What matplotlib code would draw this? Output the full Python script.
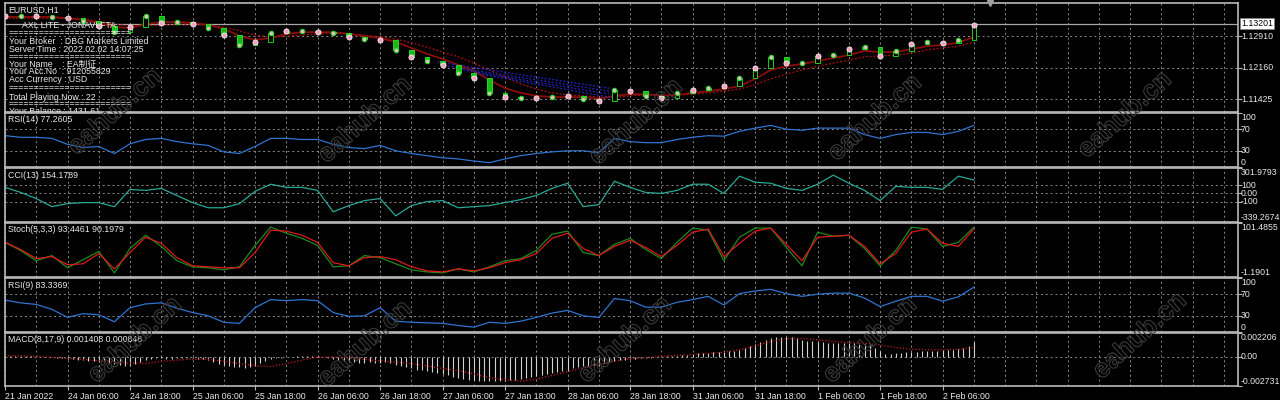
import numpy as np
import matplotlib.pyplot as plt
import matplotlib.patheffects as pe
from matplotlib.patches import Rectangle
from matplotlib.transforms import blended_transform_factory

plt.rcParams['font.family'] = ['Liberation Sans', 'Noto Sans CJK SC', 'DejaVu Sans']

W, H = 1280, 400

# readings taken every 3 H1 bars, bar 0 = 21 Jan 18:00
step = 3
close = [1.1338, 1.1338, 1.1338, 1.1336, 1.1333, 1.1326, 1.1315, 1.1300, 1.1312, 1.1338,
         1.1322, 1.1324, 1.1319, 1.1310, 1.1293, 1.1270, 1.1277, 1.1298, 1.1303, 1.1303,
         1.1300, 1.1298, 1.1289, 1.1284, 1.1282, 1.1258, 1.1242, 1.1232, 1.1223, 1.1204,
         1.1192, 1.1157, 1.1147, 1.1145, 1.1145, 1.1147, 1.1150, 1.1143, 1.1138, 1.1164,
         1.1161, 1.1150, 1.1145, 1.1157, 1.1164, 1.1168, 1.1173, 1.1192, 1.1216, 1.1242,
         1.1227, 1.1227, 1.1244, 1.1246, 1.1260, 1.1265, 1.1244, 1.1256, 1.1272, 1.1277,
         1.1275, 1.1282, 1.1318]
ma_fast = [1.1336, 1.1336, 1.1336, 1.1336, 1.1333, 1.1329, 1.1322, 1.1312, 1.1310, 1.1319,
           1.1324, 1.1324, 1.1322, 1.1317, 1.1308, 1.1291, 1.1282, 1.1286, 1.1296, 1.1300,
           1.1300, 1.1300, 1.1296, 1.1291, 1.1286, 1.1277, 1.1263, 1.1249, 1.1237, 1.1223,
           1.1209, 1.1187, 1.1168, 1.1157, 1.1150, 1.1147, 1.1147, 1.1147, 1.1143, 1.1150,
           1.1154, 1.1154, 1.1150, 1.1152, 1.1157, 1.1161, 1.1166, 1.1173, 1.1190, 1.1211,
           1.1220, 1.1225, 1.1232, 1.1239, 1.1246, 1.1256, 1.1253, 1.1253, 1.1260, 1.1267,
           1.1270, 1.1275, 1.1289]
ma_slow = [1.1333, 1.1333, 1.1333, 1.1333, 1.1333, 1.1331, 1.1326, 1.1319, 1.1315, 1.1315,
           1.1317, 1.1319, 1.1319, 1.1317, 1.1312, 1.1303, 1.1293, 1.1289, 1.1291, 1.1293,
           1.1296, 1.1298, 1.1296, 1.1293, 1.1289, 1.1284, 1.1275, 1.1265, 1.1253, 1.1242,
           1.1227, 1.1211, 1.1194, 1.1178, 1.1166, 1.1157, 1.1152, 1.1150, 1.1147, 1.1147,
           1.1150, 1.1152, 1.1152, 1.1152, 1.1154, 1.1157, 1.1161, 1.1166, 1.1176, 1.1190,
           1.1201, 1.1211, 1.1220, 1.1227, 1.1234, 1.1242, 1.1244, 1.1246, 1.1251, 1.1258,
           1.1263, 1.1267, 1.1277]
rsi14 = [58, 55, 55, 53, 42, 36, 38, 25, 43, 51,
         53, 47, 43, 40, 28, 25, 38, 53, 53, 51,
         51, 42, 36, 34, 40, 30, 25, 21, 17, 15,
         11, 8, 15, 21, 25, 28, 30, 30, 26, 53,
         47, 45, 45, 51, 55, 58, 57, 66, 72, 77,
         70, 68, 72, 72, 72, 60, 53, 60, 64, 64,
         60, 66, 77]
cci13 = [72, 12, -61, -157, -121, -109, -109, -157, 48, 36,
         60, -25, -109, -170, -170, -121, 24, 109, 72, 72,
         36, -218, -145, -85, -61, -266, -145, -97, -85, -170,
         -157, -145, -109, -73, -25, 60, 121, -157, -133, 145,
         72, 12, 0, 36, 109, 109, 0, 205, 133, 121,
         60, 36, 109, 217, 121, 36, -85, 84, 72, 72,
         48, 205, 160]
stoch_main = [64.7, 49.2, 29.8, 39.5, 16.3, 31.8, 47.3, 6.6, 53.1, 78.2,
              57.0, 29.8, 18.2, 16.3, 12.4, 18.2, 58.9, 93.7, 82.1, 72.4,
              58.9, 18.2, 20.1, 39.5, 35.6, 24.0, 12.4, 8.5, 6.6, 14.3,
              8.5, 18.2, 29.8, 33.7, 49.2, 80.2, 86.0, 45.3, 39.5, 60.8,
              72.4, 51.1, 33.7, 64.7, 91.8, 87.9, 29.8, 74.4, 91.8, 91.8,
              55.0, 20.1, 84.1, 76.3, 78.2, 53.1, 20.1, 49.2, 93.7, 89.9,
              57.0, 64.7, 93.4]
stoch_signal = [64.7, 51.1, 33.7, 37.6, 22.1, 24.0, 43.4, 14.3, 45.3, 74.4,
                62.8, 35.6, 20.1, 18.2, 16.3, 16.3, 45.3, 87.9, 86.0, 78.2,
                64.7, 26.0, 20.1, 35.6, 37.6, 31.8, 18.2, 10.5, 8.5, 14.3,
                10.5, 16.3, 26.0, 31.8, 43.4, 72.4, 82.1, 53.1, 39.5, 57.0,
                68.6, 55.0, 37.6, 58.9, 84.1, 89.9, 37.6, 62.8, 86.0, 91.8,
                60.8, 29.8, 74.4, 76.3, 78.2, 57.0, 24.0, 43.4, 84.1, 89.9,
                62.8, 57.0, 90.2]
rsi9 = [59, 54, 51, 42, 27, 34, 32, 19, 45, 52,
        54, 44, 36, 30, 18, 16, 45, 60, 58, 60,
        58, 36, 29, 30, 45, 20, 18, 17, 16, 12,
        9, 18, 16, 20, 27, 35, 40, 30, 27, 62,
        58, 46, 46, 55, 60, 66, 50, 71, 76, 79,
        71, 66, 70, 72, 72, 63, 47, 57, 66, 66,
        57, 65, 83]
macd_signal = [0.9, 0.7, 0.3, -0.5, -1.6, -2.6, -3.8, -5.0, -5.9, -6.2,
               -4.5, -3.2, -2.3, -2.6, -4.2, -6.5, -8.5, -9.2, -6.5, -3.2,
               -0.5, -0.3, -1.0, -2.5, -4.0, -5.0, -6.5, -8.5, -11.0, -13.0,
               -16.0, -19.6, -21.5, -22.8, -21.0, -17.5, -14.0, -10.5, -7.5, -4.0,
               -2.0, -0.8, 0.2, 1.2, 2.0, 3.0, 4.1, 6.5, 10.0, 14.0,
               16.8, 17.0, 15.8, 14.2, 13.2, 12.5, 11.0, 8.5, 7.0, 6.5,
               6.3, 6.8, 8.5]   # x 1e-4

# MACD main line, one value per bar (x 1e-4)
macd_main = [0.5, 0.6, 0.5, 0.3, 0.4, 0.2, 0.1, -0.2, -0.3, -0.5,
             -1.0, -1.5, -2.0, -2.5, -3.0, -3.5, -4.0, -4.2, -4.5, -5.0,
             -6.0, -7.0, -8.0, -8.5, -8.0, -7.0, -5.0, -3.0, -2.0, -1.5,
             -1.5, -1.8, -2.0, -1.5, -1.0, -1.2, -1.5, -2.0, -2.5, -3.5,
             -5.0, -6.5, -7.5, -8.5, -9.5, -10.0, -10.4, -9.5, -8.0, -6.0,
             -4.0, -2.5, -1.5, -0.8, -0.3, 0.0, 0.3, 0.5, 0.6, 0.5,
             0.3, -0.5, -1.5, -2.5, -3.5, -4.2, -4.8, -5.2, -5.5, -5.5,
             -5.0, -5.5, -5.5, -5.0, -6.0, -7.5, -9.0, -10.0, -11.0, -12.0,
             -12.5, -13.5, -14.5, -15.5, -16.5, -17.5, -18.5, -19.5, -20.5, -21.5,
             -22.0, -22.5, -23.0, -23.0, -23.0, -22.8, -22.5, -22.0, -21.5, -21.0,
             -20.0, -19.0, -18.0, -17.0, -16.0, -15.0, -14.0, -13.0, -12.0, -11.0,
             -10.0, -9.0, -8.5, -8.0, -7.5, -6.0, -5.0, -4.0, -3.5, -3.0,
             -2.5, -2.0, -1.5, -1.0, -0.8, -0.5, 0.0, 0.3, 0.6, 1.0,
             1.5, 2.0, 2.5, 3.0, 3.0, 3.5, 4.0, 4.5, 5.0, 5.0,
             5.5, 6.5, 8.0, 10.0, 12.0, 14.0, 16.0, 17.0, 18.0, 18.5,
             18.5, 18.0, 17.0, 16.0, 15.0, 14.5, 14.0, 13.5, 13.0, 13.0,
             13.0, 13.0, 12.5, 12.5, 12.0, 12.0, 11.0, 8.0, 5.0, 2.5,
             2.5, 3.0, 3.5, 4.0, 4.5, 4.5, 5.0, 5.0, 5.5, 5.5,
             6.0, 6.0, 6.5, 7.0, 8.0, 10.0, 14.1]

# blue trend fan in the price window
fan_start_bar = [83, 85, 88, 91]
fan_start_price = [1.1230, 1.1220, 1.1211, 1.1202]
fan_end_bar = 116
fan_end_price = [1.1168, 1.1161, 1.1154, 1.1147]

time_labels = ['21 Jan 2022', '24 Jan 06:00', '24 Jan 18:00', '25 Jan 06:00', '25 Jan 18:00',
               '26 Jan 06:00', '26 Jan 18:00', '27 Jan 06:00', '27 Jan 18:00', '28 Jan 06:00',
               '28 Jan 18:00', '31 Jan 06:00', '31 Jan 18:00', '1 Feb 06:00', '1 Feb 18:00',
               '2 Feb 06:00']

price_levels = [1.12910, 1.12160, 1.11425]
price_texts = ['1.12910', '1.12160', '1.11425']
bid = 1.13201
price_range = (1.11119, 1.13688)
cci_range = (-339.2674, 301.9793)
stoch_range = (-1.1901, 101.4855)
macd_range = (-0.002731, 0.002206)

headers = ['EURUSD,H1', 'RSI(14) 77.2605', 'CCI(13) 154.1789', 'Stoch(5,3,3) 93.4461 90.1979',
           'RSI(9) 83.3369', 'MACD(8,17,9) 0.001408 0.000848']
info_lines = ['AXL LITE - JONAVI FTA', '=' * 24,
              'Your Broker  : DBG Markets Limited', 'Server Time : 2022.02.02 14:07:25', '=' * 24,
              'Your Name    : EA制征', 'Your Acc.No  : 912055829', 'Acc Currency : USD', '=' * 24,
              'Total Playing Now : 22', '=' * 24, 'Your Balance : 1431.61']

grid_c = '#8a8a8a'
frame_c = '#b9b9b9'
txt_c = '#e8e8e8'
fs = 6.3

fig = plt.figure(figsize=(W / 100, H / 100), dpi=100, facecolor='black')


def px(x, y):
    return x / W, 1 - y / H


left, right = 5, 1238
rows = [(3, 112), (113, 167), (168, 222), (223, 277), (278, 332), (333, 386)]
n_slots = 236.7
major = np.arange(0, 181, 12)
minor = [b for b in range(6, 237, 6) if b not in major]

axes = []
for top, bottom in rows:
    ax = fig.add_axes([left / W, 1 - bottom / H, (right - left) / W, (bottom - top) / H])
    ax.set_facecolor('black')
    for s in ax.spines.values():
        s.set_color(frame_c)
        s.set_linewidth(1.2)
    ax.set_xlim(0, n_slots)
    ax.set_xticks(major)
    ax.set_xticks(minor, minor=True)
    ax.grid(which='both', axis='x', color=grid_c, lw=0.7, ls=(0, (2, 3)))
    ax.yaxis.tick_right()
    ax.tick_params(which='both', bottom=False, labelbottom=False, left=False, labelleft=False,
                   right=False, labelright=False)
    axes.append(ax)
ax_p, ax_r14, ax_cci, ax_st, ax_r9, ax_m = axes


def scale(ax, lo, hi, levels, texts, vas, grid_levels):
    ax.set_ylim(lo, hi)
    ax.set_yticks(levels)
    ax.tick_params(axis='y', which='major', right=True, length=3, width=0.8, color=frame_c)
    tr = blended_transform_factory(ax.transAxes, ax.transData)
    for v, t, va in zip(levels, texts, vas):
        ax.text(1.0025, v, t, transform=tr, ha='left', va=va, color=txt_c, fontsize=fs, clip_on=False)
    for g in grid_levels:
        ax.axhline(g, color=grid_c, lw=0.7, ls=(0, (2, 3)), zorder=1)


scale(ax_p, *price_range, price_levels, price_texts, ['center'] * 3, price_levels)
scale(ax_r14, 0, 100, [100, 70, 30, 0], ['100', '70', '30', '0'],
      ['top', 'center', 'center', 'bottom'], [70, 30])
scale(ax_cci, *cci_range, [cci_range[1], 100, 0, -100, cci_range[0]],
      ['301.9793', '100', '0.00', '-100', '-339.2674'],
      ['top', 'center', 'center', 'center', 'bottom'], [100, 0, -100])
scale(ax_st, *stoch_range, [stoch_range[1], stoch_range[0]], ['101.4855', '-1.1901'],
      ['top', 'bottom'], [])
scale(ax_r9, 0, 100, [100, 70, 30, 0], ['100', '70', '30', '0'],
      ['top', 'center', 'center', 'bottom'], [70, 30])
scale(ax_m, *macd_range, [macd_range[1], 0, macd_range[0]], ['0.002206', '0.00', '-0.002731'],
      ['top', 'center', 'bottom'], [0])

# time axis
ax_m.tick_params(axis='x', which='major', bottom=True, length=3, width=0.8, color=frame_c,
                 labelbottom=True, labelsize=fs, labelcolor=txt_c, pad=1.5)
ax_m.set_xticklabels(time_labels, ha='left')

xs = np.arange(len(close)) * step

# price window
bid_tr = blended_transform_factory(ax_p.transAxes, ax_p.transData)
ax_p.axhline(bid, color='#a8a8a8', lw=0.9, zorder=2)
ax_p.text(1.0025, bid, '1.13201', transform=bid_tr, ha='left', va='center', color='black',
          fontsize=fs, clip_on=False,
          bbox=dict(facecolor='white', edgecolor='#808080', pad=0.6, lw=0.5))
ax_p.plot(xs, ma_slow, color='#b01010', lw=0.9, ls=(0, (1.5, 1.5)), zorder=2)
ax_p.plot(xs, ma_fast, color='#8c0c0c', lw=1.3, zorder=2)
for sb, sp, ep in zip(fan_start_bar, fan_start_price, fan_end_price):
    ax_p.plot([sb, fan_end_bar], [sp, ep], color='#2424c8', lw=0.9, ls=(0, (1.5, 1.5)), zorder=2)
c = np.array(close)
for i in range(1, len(c)):
    lo_, hi_ = min(c[i - 1], c[i]), max(c[i - 1], c[i])
    up = c[i] >= c[i - 1]
    ax_p.add_patch(Rectangle((xs[i] - 0.45, lo_), 0.9, max(hi_ - lo_, 0.00003),
                             facecolor='black' if up else '#19b819', edgecolor='#22ee22',
                             lw=0.6, zorder=3))
ax_p.scatter(xs[::2], c[::2], s=14, c='#f4a3c2', edgecolors='white', linewidths=0.5, zorder=4)
ax_p.scatter(xs[1::2], c[1::2], s=10, c='#f0b8cf', edgecolors='#27d827', linewidths=0.8, zorder=4)
ax_p.plot(189, price_range[1], marker='v', color='#a0a0a0', ms=5, clip_on=False, zorder=5)

# oscillators
ax_r14.plot(xs, rsi14, color='#2f74d0', lw=0.9)
ax_cci.plot(xs, cci13, color='#2aa898', lw=0.9)
ax_st.plot(xs, stoch_main, color='#1c8a1c', lw=0.9)
ax_st.plot(xs, stoch_signal, color='#e01818', lw=0.9)
ax_r9.plot(xs, rsi9, color='#2f74d0', lw=0.9)
ax_m.vlines(np.arange(len(macd_main)), 0, np.array(macd_main) * 1e-4, color='#d2d2d2', lw=0.8)
ax_m.plot(xs, np.array(macd_signal) * 1e-4, color='#c81e1e', lw=0.9, ls=(0, (1, 1.5)))

# panel headers
for (top, bottom), h in zip(rows, headers):
    fig.text(*px(8, top + 7), h, color=txt_c, fontsize=fs, va='center', ha='left')

# EA info block over the price window
info_y = [25, 33, 41, 49, 57, 64, 72, 80, 88, 97, 104, 111]
for line, y in zip(info_lines, info_y):
    x0 = 22 if line.startswith('AXL') else 9
    t = fig.text(*px(x0, y), line, color=txt_c, fontsize=fs, va='center', ha='left')
    if line.startswith('Your Balance'):
        t.set_clip_on(True)
        t.set_clip_box(ax_p.bbox)

# watermark
marks = [(115, 112), (365, 120), (636, 122), (875, 118), (1125, 115),
         (135, 340), (365, 344), (625, 340), (870, 340), (1140, 336)]
for mx, my in marks:
    fig.text(*px(mx, my), 'eahub.cn', rotation=42, fontsize=19, fontweight='bold',
             color='none', ha='center', va='center', zorder=20,
             path_effects=[pe.Stroke(linewidth=0.8, foreground='#3a3a3a')])

fig.savefig('out.png', dpi=100, facecolor='black')
